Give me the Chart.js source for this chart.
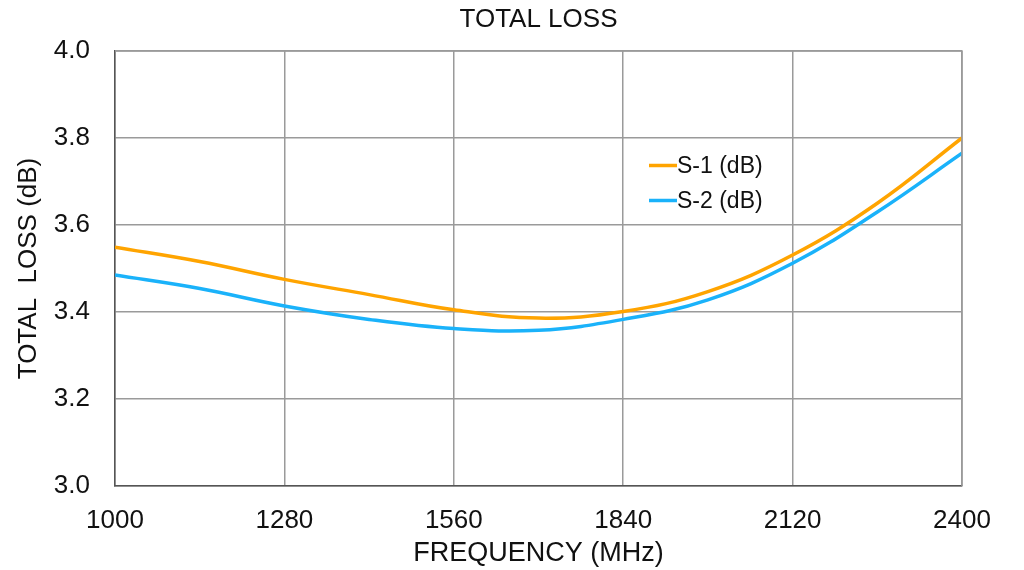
<!DOCTYPE html>
<html><head><meta charset="utf-8">
<script src="https://cdn.jsdelivr.net/npm/chart.js@4/dist/chart.umd.min.js"></script>
<style>html,body{margin:0;padding:0;background:#fff}#wrap{width:1024px;height:570px}</style>
</head><body><div id="wrap"><canvas id="c" width="1024" height="570"></canvas></div>
<script>
const frequencies = [1000, 1140, 1280, 1420, 1560, 1700, 1840, 1980, 2120, 2260, 2400];
const s1 = [3.549, 3.516, 3.475, 3.440, 3.405, 3.386, 3.401, 3.447, 3.531, 3.650, 3.800];
const s2 = [3.485, 3.454, 3.414, 3.383, 3.362, 3.358, 3.383, 3.428, 3.512, 3.630, 3.765];
const seriesLabels = ['S-1 (dB)', 'S-2 (dB)'];
const xTicks = [1000, 1280, 1560, 1840, 2120, 2400];
const yTicks = [3.0, 3.2, 3.4, 3.6, 3.8, 4.0];
const chartTitle = 'TOTAL LOSS';

const FONT = "'Liberation Sans', Arial, sans-serif";
const ORANGE = '#FFA400';
const BLUE = '#1AB2FA';

const legendPlugin = {
  id: 'inLegend',
  afterDraw(chart) {
    const ctx = chart.ctx;
    ctx.save();
    ctx.font = '23px ' + FONT;
    ctx.textBaseline = 'middle';
    ctx.fillStyle = '#111';
    chart.data.datasets.forEach((ds, i) => {
      const y = 165.5 + i * 35;
      ctx.strokeStyle = ds.borderColor;
      ctx.lineWidth = 3.5;
      ctx.beginPath();
      ctx.moveTo(649, y);
      ctx.lineTo(677, y);
      ctx.stroke();
      ctx.fillText(ds.label, 677, y + 1);
    });
    ctx.restore();
  }
};

const titlePlugin = {
  id: 'areaTitle',
  afterDraw(chart) {
    const a = chart.chartArea, ctx = chart.ctx;
    ctx.save();
    ctx.font = '26px ' + FONT;
    ctx.fillStyle = '#111';
    ctx.textAlign = 'center';
    ctx.textBaseline = 'middle';
    ctx.fillText(chartTitle, (a.left + a.right) / 2, 20);
    ctx.restore();
  }
};

new Chart(document.getElementById('c'), {
  type: 'line',
  data: {
    datasets: [
      { label: seriesLabels[0], data: frequencies.map((f, i) => ({x: f, y: s1[i]})), borderColor: ORANGE, backgroundColor: ORANGE, borderWidth: 3.5, pointRadius: 0, tension: 0.4 },
      { label: seriesLabels[1], data: frequencies.map((f, i) => ({x: f, y: s2[i]})), borderColor: BLUE, backgroundColor: BLUE, borderWidth: 3.5, pointRadius: 0, tension: 0.4 }
    ]
  },
  options: {
    responsive: false,
    animation: false,
    layout: { padding: { left: 0, right: 62, top: 51, bottom: 0 } },
    plugins: {
      legend: { display: false },
      tooltip: { enabled: false },
      title: { display: false }
    },
    scales: {
      x: {
        type: 'linear', min: 1000, max: 2400,
        afterBuildTicks(s) { s.ticks = xTicks.map(v => ({value: v})); },
        afterFit(s) { s.height = 84; },
        grid: { color: '#9a9a9a', lineWidth: 1.5, drawTicks: false },
        border: { color: '#555', width: 1.5 },
        ticks: { color: '#111', font: { family: FONT, size: 26 }, padding: 19, maxRotation: 0, callback: v => String(v) },
        title: { display: true, text: 'FREQUENCY (MHz)', color: '#111', font: { family: FONT, size: 27 }, padding: { top: -2, bottom: 0 } }
      },
      y: {
        type: 'linear', min: 3.0, max: 4.0,
        afterBuildTicks(s) { s.ticks = yTicks.map(v => ({value: v})); },
        afterFit(s) { s.width = 115; },
        grid: { color: '#9a9a9a', lineWidth: 1.5, drawTicks: false },
        border: { color: '#555', width: 1.5 },
        ticks: { color: '#111', font: { family: FONT, size: 26 }, padding: 25, callback: v => Number(v).toFixed(1) },
        title: { display: true, text: 'TOTAL  LOSS (dB)', color: '#111', font: { family: FONT, size: 26 }, padding: { top: 13, bottom: 0 } }
      }
    }
  },
  plugins: [legendPlugin, titlePlugin, {
    id: 'frame',
    afterDraw(chart) {
      const a = chart.chartArea, ctx = chart.ctx;
      ctx.save(); ctx.strokeStyle = '#9a9a9a'; ctx.lineWidth = 1.5;
      ctx.beginPath(); ctx.moveTo(a.left, a.top); ctx.lineTo(a.right, a.top); ctx.lineTo(a.right, a.bottom); ctx.stroke();
      ctx.restore();
    }
  }]
});
</script></body></html>
